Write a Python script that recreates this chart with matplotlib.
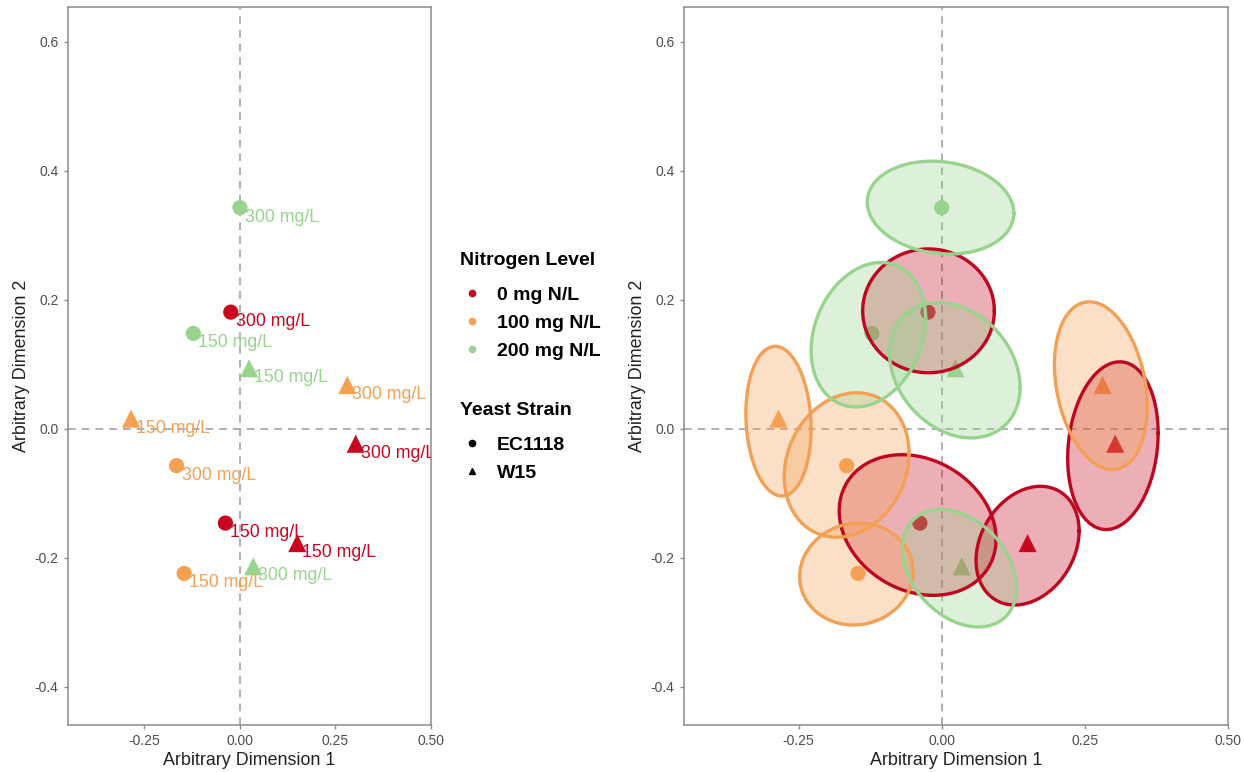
import numpy as np
import matplotlib
matplotlib.use("Agg")
import matplotlib.pyplot as plt
from matplotlib.lines import Line2D

plt.rcParams['font.family'] = ['Liberation Sans', 'DejaVu Sans']

# ---------------- data ----------------
nitrogen_levels = ["0 mg N/L", "100 mg N/L", "200 mg N/L"]
level_colors = ["#C8061F", "#F5A052", "#98D48E"]
edge_colors = ["#BE0620", "#F2A055", "#98D48E"]
strains = ["EC1118", "W15"]
strain_markers = ["o", "^"]

# each observation: nitrogen level index, strain index, label, dim1, dim2
obs_level = [0, 0, 1, 1, 2, 2, 0, 0, 1, 1, 2, 2]
obs_strain = [0, 0, 0, 0, 0, 0, 1, 1, 1, 1, 1, 1]
obs_label = ["300 mg/L", "150 mg/L", "300 mg/L", "150 mg/L", "300 mg/L", "150 mg/L",
             "300 mg/L", "150 mg/L", "300 mg/L", "150 mg/L", "300 mg/L", "150 mg/L"]
dim1 = [-0.024, -0.038, -0.166, -0.146, 0.000, -0.122,
        0.303, 0.150, 0.281, -0.285, 0.035, 0.024]
dim2 = [0.181, -0.146, -0.057, -0.224, 0.343, 0.148,
        -0.023, -0.177, 0.068, 0.016, -0.213, 0.094]

# confidence ellipses (right panel): level index, centre, half-extent x/y, correlation
ell_level = [0, 0, 0, 0, 1, 1, 1, 1, 2, 2, 2, 2]
ell_cx = [-0.023, -0.042, 0.299, 0.150, 0.278, -0.285, -0.166, -0.149, -0.002, -0.128, 0.023, 0.031]
ell_cy = [0.183, -0.149, -0.026, -0.181, 0.067, 0.012, -0.056, -0.225, 0.343, 0.146, 0.091, -0.216]
ell_sx = [0.115, 0.137, 0.079, 0.090, 0.081, 0.057, 0.109, 0.099, 0.128, 0.100, 0.114, 0.100]
ell_sy = [0.096, 0.109, 0.130, 0.092, 0.130, 0.116, 0.112, 0.079, 0.072, 0.112, 0.105, 0.091]
ell_rho = [0.0, -0.20, 0.15, 0.25, -0.25, -0.10, 0.16, 0.05, -0.12, 0.22, -0.25, -0.33]

x_ticks = [-0.25, 0.00, 0.25, 0.50]
x_tick_labels = ["-0.25", "0.00", "0.25", "0.50"]
y_ticks = [-0.4, -0.2, 0.0, 0.2, 0.4, 0.6]
y_tick_labels = ["-0.4", "-0.2", "0.0", "0.2", "0.4", "0.6"]
xlim = (-0.450, 0.500)
ylim = (-0.459, 0.654)

# ---------------- figure ----------------
W, H = 1244, 772
fig = plt.figure(figsize=(W / 100, H / 100), dpi=100)

def px_axes(x0, x1, y0, y1):
    return fig.add_axes([x0 / W, 1 - y1 / H, (x1 - x0) / W, (y1 - y0) / H])

axL = px_axes(68, 431, 7, 725)
axR = px_axes(684, 1228, 7, 725)

spine_col = "#8C8C8C"
for ax in (axL, axR):
    ax.set_xlim(*xlim)
    ax.set_ylim(*ylim)
    ax.set_xticks(x_ticks)
    ax.set_xticklabels(x_tick_labels)
    ax.set_yticks(y_ticks)
    ax.set_yticklabels(y_tick_labels)
    ax.tick_params(axis='both', length=3.2, width=1.0, color=spine_col,
                   labelsize=10, labelcolor="#4D4D4D", pad=3.5)
    for s in ax.spines.values():
        s.set_color(spine_col)
        s.set_linewidth(1.1)
    ax.axhline(0, color="#9A9A9A", lw=1.1, ls=(0, (5, 4)), zorder=1)
    ax.axvline(0, color="#9A9A9A", lw=1.1, ls=(0, (5, 4)), zorder=1)
    ax.set_xlabel("Arbitrary Dimension 1", fontsize=12.9, color="#222222", labelpad=3)
    ax.set_ylabel("Arbitrary Dimension 2", fontsize=12.9, color="#222222", labelpad=3.5)

# points on both panels
for ax in (axL, axR):
    for i in range(len(dim1)):
        m = strain_markers[obs_strain[i]]
        ax.scatter(dim1[i], dim2[i], s=(120 if m == "o" else 170), marker=m,
                   color=level_colors[obs_level[i]], edgecolors="none", zorder=3)

# labels on left panel (clipped to the panel, as in the original)
for i in range(len(dim1)):
    axL.annotate(obs_label[i], (dim1[i], dim2[i]), xytext=(5, -1),
                 textcoords="offset pixels", ha="left", va="top",
                 fontsize=12.8, color=level_colors[obs_level[i]], zorder=4,
                 clip_on=True)

# ellipses on right panel (drawn over the points)
t = np.linspace(0, 2 * np.pi, 200)
for k in range(len(ell_cx)):
    lv = ell_level[k]
    ex = ell_cx[k] + ell_sx[k] * np.cos(t)
    ey = ell_cy[k] + ell_sy[k] * (ell_rho[k] * np.cos(t) + np.sqrt(1 - ell_rho[k] ** 2) * np.sin(t))
    axR.fill(ex, ey, color=level_colors[lv], alpha=0.32, lw=0, zorder=5)
    axR.plot(ex, ey, color=edge_colors[lv], lw=2.4, zorder=6)

# ---------------- legends ----------------
fs = 14
def make_legend(handles, labels, title, top_px):
    leg = fig.legend(handles, labels, loc="upper left", bbox_to_anchor=(460 / W, 1 - top_px / H),
                     frameon=False, title=title, alignment="left",
                     prop={"weight": "bold", "size": fs},
                     title_fontproperties={"weight": "bold", "size": fs},
                     handlelength=1.2, handletextpad=0.7, labelspacing=0.53, borderpad=0,
                     borderaxespad=0)
    leg._legend_box.sep = 12.5
    return leg

h1 = [Line2D([], [], ls="none", marker="o", markersize=4.5, color=c) for c in level_colors]
make_legend(h1, nitrogen_levels, "Nitrogen Level", 252)
h2 = [Line2D([], [], ls="none", marker=m, markersize=4.5, color="black") for m in strain_markers]
make_legend(h2, strains, "Yeast Strain", 402)

fig.savefig("out.png", dpi=100)
